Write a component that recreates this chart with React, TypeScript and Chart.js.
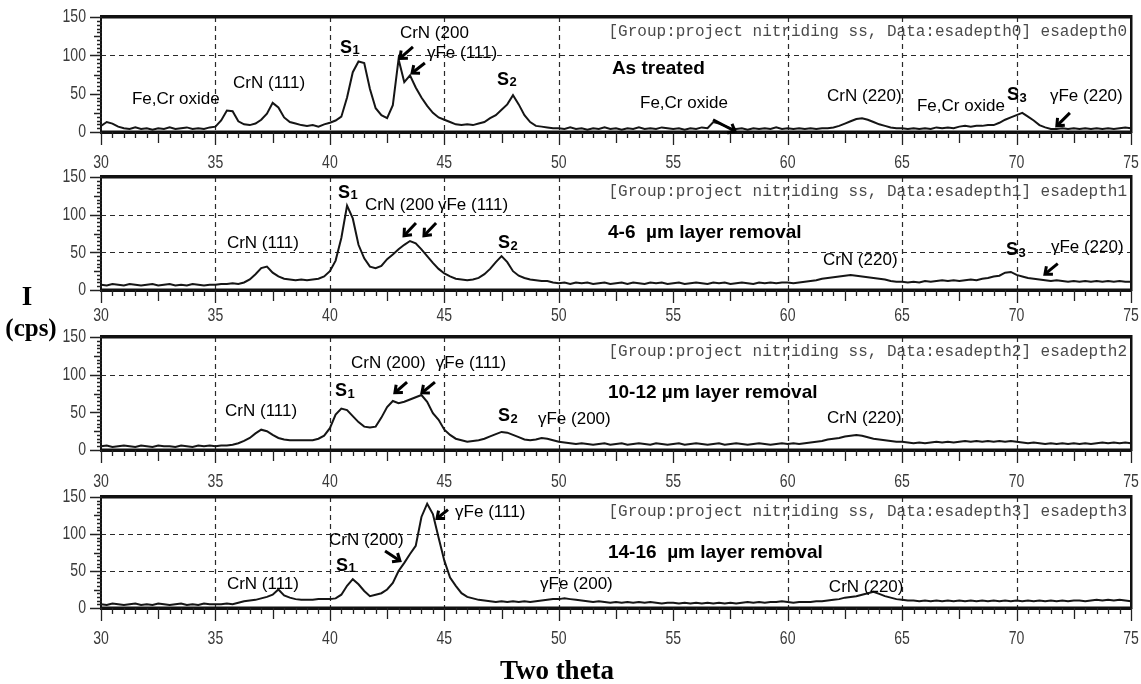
import React, { useEffect, useRef } from "react";
import { Chart, registerables } from "chart.js";

Chart.register(...registerables);

// ---------- DATA ----------
// two-theta sampling grid (degrees), 0.25° step from 30 to 75
const twoTheta: number[] = [];
for (let i = 0; i <= 180; i++) twoTheta.push(30 + i * 0.25);

// intensities (cps)
const asTreatedCps = [
  8, 13, 11, 7, 5, 4, 6, 4, 5, 3, 5, 4, 6, 4, 5, 6, 4, 5, 4, 6,
  7, 15, 28, 27, 14, 10, 9, 11, 16, 24, 38, 32, 19, 13, 11, 9, 8, 9, 7, 10,
  12, 15, 20, 45, 78, 92, 90, 56, 31, 22, 18, 35, 95, 65, 74, 58, 45, 34, 25, 19,
  16, 13, 10, 9, 10, 9, 11, 13, 18, 22, 29, 36, 48, 36, 22, 13, 8, 7, 6, 5,
  5, 4, 6, 4, 5, 3, 5, 4, 6, 4, 5, 3, 5, 4, 6, 4, 5, 4, 6, 5,
  4, 5, 3, 5, 4, 6, 5, 13, 11, 8, 5, 4, 5, 3, 5, 4, 5, 4, 6, 4,
  5, 4, 5, 4, 5, 4, 5, 5, 6, 8, 11, 14, 17, 18, 16, 13, 10, 8, 6, 5,
  5, 4, 5, 4, 5, 4, 6, 5, 6, 5, 7, 8, 7, 8, 8, 9, 9, 12, 16, 19,
  22, 25, 20, 15, 9, 6, 4, 4, 5, 4, 5, 4, 5, 4, 5, 4, 5, 4, 5, 6,
  5,
];

const removal4to6Cps = [
  7, 6, 8, 7, 6, 8, 7, 6, 7, 8, 6, 7, 8, 6, 7, 6, 8, 7, 6, 7,
  7, 8, 8, 9, 8, 10, 14, 21, 29, 31, 23, 18, 15, 14, 13, 14, 13, 14, 15, 18,
  25, 39, 69, 112, 95, 60, 42, 31, 29, 32, 41, 47, 54, 60, 65, 62, 54, 45, 36, 28,
  22, 18, 15, 14, 13, 14, 16, 21, 28, 37, 45, 37, 25, 19, 16, 14, 13, 12, 12, 10,
  9, 10, 8, 10, 9, 10, 8, 9, 10, 8, 9, 10, 8, 10, 9, 8, 10, 9, 10, 8,
  9, 10, 8, 9, 10, 9, 8, 10, 9, 10, 8, 9, 10, 9, 8, 10, 9, 10, 9, 10,
  10, 9, 10, 11, 12, 13, 15, 16, 17, 18, 19, 20, 19, 18, 17, 16, 15, 14, 12, 11,
  11, 10, 11, 10, 12, 11, 12, 13, 12, 13, 12, 13, 14, 13, 15, 16, 18, 19, 23, 24,
  20, 18, 16, 15, 14, 13, 12, 13, 12, 11, 12, 11, 12, 11, 12, 11, 12, 11, 12, 11,
  11,
];

const removal10to12Cps = [
  5, 6, 4, 5, 6, 5, 4, 6, 5, 4, 6, 5, 5, 4, 6, 5, 4, 6, 5, 6,
  5, 6, 6, 7, 9, 12, 16, 22, 27, 25, 20, 16, 14, 13, 13, 13, 13, 13, 15, 19,
  29, 47, 55, 53, 45, 37, 31, 30, 31, 43, 57, 65, 62, 64, 67, 70, 73, 64, 49, 40,
  27, 20, 15, 13, 11, 12, 13, 15, 18, 21, 24, 23, 20, 17, 14, 13, 14, 16, 15, 13,
  11, 10, 9, 8, 9, 8, 7, 8, 9, 7, 8, 9, 7, 8, 9, 8, 7, 9, 8, 7,
  8, 9, 7, 8, 9, 8, 7, 8, 9, 7, 8, 9, 8, 7, 8, 9, 8, 7, 8, 9,
  8, 9, 8, 9, 10, 11, 12, 14, 15, 16, 18, 19, 20, 19, 17, 15, 14, 13, 12, 11,
  11, 10, 9, 10, 9, 10, 11, 10, 11, 10, 11, 12, 11, 12, 11, 12, 11, 12, 11, 12,
  11, 10, 9, 10, 9, 8, 9, 8, 9, 8, 9, 8, 9, 8, 9, 10, 9, 10, 9, 10,
  9,
];

const removal14to16Cps = [
  5, 4, 6, 5, 4, 5, 6, 4, 5, 4, 6, 5, 4, 5, 6, 4, 5, 4, 6, 5,
  5, 5, 6, 5, 7, 9, 10, 11, 13, 15, 18, 25, 17, 14, 12, 11, 11, 11, 12, 12,
  12, 13, 18, 30, 39, 32, 23, 16, 18, 20, 25, 34, 50, 61, 73, 84, 123, 141, 127, 95,
  64, 41, 30, 20, 15, 13, 11, 10, 9, 8, 9, 8, 9, 8, 9, 8, 9, 10, 11, 12,
  12, 13, 12, 11, 10, 9, 8, 9, 8, 7, 8, 7, 8, 7, 8, 7, 8, 7, 6, 7,
  7, 6, 7, 6, 7, 6, 7, 6, 7, 6, 7, 6, 7, 8, 7, 8, 7, 8, 8, 9,
  8, 7, 8, 8, 8, 9, 9, 10, 11, 12, 14, 15, 16, 18, 20, 22, 19, 16, 14, 12,
  11, 10, 10, 9, 10, 9, 10, 9, 10, 9, 10, 9, 10, 9, 10, 9, 10, 9, 10, 9,
  10, 9, 10, 9, 10, 9, 10, 9, 10, 9, 10, 10, 9, 10, 11, 10, 11, 10, 11, 10,
  9,
];

const xTickLabels = ["30", "35", "40", "45", "50", "55", "60", "65", "70", "75"];
const yTickLabels = ["0", "50", "100", "150"];

const panelTitles = [
  "As treated",
  "4-6  \u00b5m layer removal",
  "10-12 \u00b5m layer removal",
  "14-16  \u00b5m layer removal",
];

const headerTexts = [
  "[Group:project nitriding ss, Data:esadepth0] esadepth0",
  "[Group:project nitriding ss, Data:esadepth1] esadepth1",
  "[Group:project nitriding ss, Data:esadepth2] esadepth2",
  "[Group:project nitriding ss, Data:esadepth3] esadepth3",
];

type Label = { text: string; x: number; y: number; sub?: string; title?: boolean };
type Arrow = { from: [number, number]; to: [number, number] };

const asTreatedLabels: Label[] = [
  { text: "Fe,Cr oxide", x: 31.35, y: 43 },
  { text: "CrN (111)", x: 35.77, y: 64 },
  { text: "S", sub: "1", x: 40.44, y: 110 },
  { text: "CrN (200", x: 43.06, y: 129 },
  { text: "\u03b3Fe (111)", x: 44.24, y: 103 },
  { text: "S", sub: "2", x: 47.3, y: 68 },
  { text: panelTitles[0], x: 52.32, y: 83, title: true },
  { text: "Fe,Cr oxide", x: 53.55, y: 38 },
  { text: "CrN (220)", x: 61.72, y: 46 },
  { text: "Fe,Cr oxide", x: 65.65, y: 33 },
  { text: "S", sub: "3", x: 69.58, y: 48 },
  { text: "\u03b3Fe (220)", x: 71.46, y: 46 },
];
const asTreatedArrows: Arrow[] = [
  { from: [43.63, 111], to: [43.06, 96] },
  { from: [44.15, 90], to: [43.59, 77] },
  { from: [56.74, 16], to: [57.7, 1] },
  { from: [72.33, 25], to: [71.76, 8] },
];

const removal4to6Labels: Label[] = [
  { text: "CrN (111)", x: 35.5, y: 62 },
  { text: "S", sub: "1", x: 40.35, y: 129 },
  { text: "CrN (200", x: 41.53, y: 113 },
  { text: "\u03b3Fe (111)", x: 44.72, y: 113 },
  { text: "S", sub: "2", x: 47.34, y: 62 },
  { text: panelTitles[1], x: 52.15, y: 76, title: true },
  { text: "CrN (220)", x: 61.54, y: 40 },
  { text: "S", sub: "3", x: 69.54, y: 53 },
  { text: "\u03b3Fe (220)", x: 71.5, y: 57 },
];
const removal4to6Arrows: Arrow[] = [
  { from: [43.76, 89], to: [43.24, 72] },
  { from: [44.64, 89], to: [44.11, 72] },
  { from: [71.8, 35], to: [71.24, 21] },
];

const removal10to12Labels: Label[] = [
  { text: "CrN (111)", x: 35.42, y: 52 },
  { text: "S", sub: "1", x: 40.22, y: 78 },
  { text: "CrN (200)", x: 40.92, y: 115 },
  { text: "\u03b3Fe (111)", x: 44.63, y: 115 },
  { text: "S", sub: "2", x: 47.34, y: 45 },
  { text: "\u03b3Fe (200)", x: 49.09, y: 41 },
  { text: panelTitles[2], x: 52.15, y: 76, title: true },
  { text: "CrN (220)", x: 61.72, y: 42 },
];
const removal10to12Arrows: Arrow[] = [
  { from: [43.37, 90], to: [42.84, 76] },
  { from: [44.59, 90], to: [44.02, 76] },
];

const removal14to16Labels: Label[] = [
  { text: "CrN (111)", x: 35.5, y: 32 },
  { text: "S", sub: "1", x: 40.27, y: 57 },
  { text: "CrN (200)", x: 39.96, y: 92 },
  { text: "\u03b3Fe (111)", x: 45.47, y: 129 },
  { text: "\u03b3Fe (200)", x: 49.18, y: 32 },
  { text: panelTitles[3], x: 52.15, y: 74, title: true },
  { text: "CrN (220)", x: 61.8, y: 28 },
];
const removal14to16Arrows: Arrow[] = [
  { from: [42.41, 77], to: [43.06, 64] },
  { from: [45.16, 133], to: [44.68, 121] },
];

const verticalGridValues = [35, 40, 45, 50, 60, 65, 70];

// ---------- LAYOUT / STYLE ----------
const PAD_TOP = 12;
const X_AXIS_H = 48;
const panels = [
  { top: 17, bottom: 132, values: asTreatedCps, labels: asTreatedLabels, arrows: asTreatedArrows, hGrid: [100], xLabelDy: 31, header: headerTexts[0] },
  { top: 177, bottom: 290, values: removal4to6Cps, labels: removal4to6Labels, arrows: removal4to6Arrows, hGrid: [50, 100], xLabelDy: 26, header: headerTexts[1] },
  { top: 337, bottom: 450, values: removal10to12Cps, labels: removal10to12Labels, arrows: removal10to12Arrows, hGrid: [100], xLabelDy: 32, header: headerTexts[2] },
  { top: 497, bottom: 608, values: removal14to16Cps, labels: removal14to16Labels, arrows: removal14to16Arrows, hGrid: [50, 100], xLabelDy: 31, header: headerTexts[3] },
];

const TICK_FONT = "19px 'Liberation Sans', Arial, sans-serif";
const LABEL_FONT = "17px 'Liberation Sans', Arial, sans-serif";
const TITLE_FONT = "bold 19px 'Liberation Sans', Arial, sans-serif";
const S_FONT = "bold 18px 'Liberation Sans', Arial, sans-serif";
const SUB_FONT = "bold 13px 'Liberation Sans', Arial, sans-serif";
const HEADER_FONT = "16px 'Liberation Mono', 'DejaVu Sans Mono', monospace";

function drawNarrow(ctx: CanvasRenderingContext2D, text: string, x: number, y: number, align: CanvasTextAlign) {
  ctx.save();
  ctx.translate(x, y);
  ctx.scale(0.74, 1);
  ctx.textAlign = align;
  ctx.textBaseline = "middle";
  ctx.fillText(text, 0, 0);
  ctx.restore();
}

function decorPlugin(cfg: (typeof panels)[number]) {
  return {
    id: "xrdDecor",
    beforeDatasetsDraw(chart: any) {
      const { ctx, chartArea: a } = chart;
      const xs = chart.scales.x;
      const ys = chart.scales.y;
      ctx.save();
      ctx.strokeStyle = "#2a2a2a";
      ctx.lineWidth = 1.2;
      ctx.setLineDash([5, 4]);
      verticalGridValues.forEach((v) => {
        const p = Math.round(xs.getPixelForValue(v)) + 0.5;
        ctx.beginPath();
        ctx.moveTo(p, a.top);
        ctx.lineTo(p, a.bottom);
        ctx.stroke();
      });
      cfg.hGrid.forEach((v) => {
        const p = Math.round(ys.getPixelForValue(v)) + 0.5;
        ctx.beginPath();
        ctx.moveTo(a.left, p);
        ctx.lineTo(a.right, p);
        ctx.stroke();
      });
      ctx.restore();
    },
    afterDatasetsDraw(chart: any) {
      const { ctx, chartArea: a } = chart;
      const xs = chart.scales.x;
      const ys = chart.scales.y;
      ctx.save();
      // frame
      ctx.fillStyle = "#111";
      ctx.fillRect(a.left - 1, a.top - 2, a.width + 2, 3.5);
      ctx.fillRect(a.left - 1, a.bottom - 1.5, a.width + 2, 3.5);
      ctx.fillRect(a.left - 1, a.top, 2, a.height);
      ctx.fillRect(a.right - 1, a.top - 2, 2.5, a.height + 3);
      // x ticks
      ctx.strokeStyle = "#222";
      ctx.lineWidth = 1.3;
      ctx.beginPath();
      for (let k = 0; k <= 90; k++) {
        const v = 30 + k * 0.5;
        const len = k % 10 === 0 ? 13 : k % 5 === 0 ? 11 : 6;
        const p = Math.round(xs.getPixelForValue(v)) + 0.5;
        ctx.moveTo(p, a.bottom);
        ctx.lineTo(p, a.bottom + len);
      }
      // y ticks
      for (let k = 0; k <= 30; k++) {
        const v = k * 5;
        const len = k % 10 === 0 ? 11 : k % 5 === 0 ? 7 : 4;
        const p = Math.round(ys.getPixelForValue(v)) + 0.5;
        ctx.moveTo(a.left - len, p);
        ctx.lineTo(a.left + 1, p);
      }
      ctx.stroke();

      // tick labels (narrow, grey, like the instrument print-out)
      ctx.fillStyle = "#3a3a3a";
      ctx.font = TICK_FONT;
      xTickLabels.forEach((t) => {
        drawNarrow(ctx, t, xs.getPixelForValue(Number(t)), a.bottom + cfg.xLabelDy, "center");
      });
      yTickLabels.forEach((t) => {
        drawNarrow(ctx, t, a.left - 15, ys.getPixelForValue(Number(t)), "right");
      });

      // header text
      ctx.font = HEADER_FONT;
      ctx.fillStyle = "#4a4a4a";
      ctx.textAlign = "right";
      ctx.textBaseline = "middle";
      ctx.fillText(cfg.header, a.right - 4, a.top + 15);

      // labels
      ctx.fillStyle = "#000";
      ctx.textAlign = "left";
      cfg.labels.forEach((l) => {
        const px = xs.getPixelForValue(l.x);
        const py = ys.getPixelForValue(l.y);
        if (l.sub) {
          ctx.font = S_FONT;
          ctx.fillText(l.text, px, py);
          const w = ctx.measureText(l.text).width;
          ctx.font = SUB_FONT;
          ctx.fillText(l.sub, px + w + 0.5, py + 3);
        } else {
          ctx.font = l.title ? TITLE_FONT : LABEL_FONT;
          ctx.fillText(l.text, px, py);
        }
      });

      // arrows
      ctx.strokeStyle = "#000";
      ctx.lineWidth = 3;
      ctx.lineJoin = "miter";
      cfg.arrows.forEach((ar) => {
        const x1 = xs.getPixelForValue(ar.from[0]);
        const y1 = ys.getPixelForValue(ar.from[1]);
        const x2 = xs.getPixelForValue(ar.to[0]);
        const y2 = ys.getPixelForValue(ar.to[1]);
        const ang = Math.atan2(y2 - y1, x2 - x1);
        const hl = 8;
        ctx.beginPath();
        ctx.moveTo(x1, y1);
        ctx.lineTo(x2, y2);
        ctx.stroke();
        ctx.beginPath();
        ctx.moveTo(x2 - hl * Math.cos(ang - 0.7), y2 - hl * Math.sin(ang - 0.7));
        ctx.lineTo(x2, y2);
        ctx.lineTo(x2 - hl * Math.cos(ang + 0.7), y2 - hl * Math.sin(ang + 0.7));
        ctx.stroke();
      });
      ctx.restore();
    },
  };
}

function XrdPanel({ idx }: { idx: number }) {
  const ref = useRef<HTMLCanvasElement>(null);
  const cfg = panels[idx];
  const h = PAD_TOP + (cfg.bottom - cfg.top) + X_AXIS_H;

  useEffect(() => {
    if (!ref.current) return;
    const chart = new Chart(ref.current, {
      type: "line",
      data: {
        datasets: [
          {
            data: twoTheta.map((x, i) => ({ x, y: cfg.values[i] })),
            borderColor: "#151515",
            borderWidth: 2,
            pointRadius: 0,
            tension: 0,
            fill: false,
          },
        ],
      },
      options: {
        responsive: false,
        animation: false,
        events: [],
        layout: { padding: { top: PAD_TOP, right: 10, left: 0, bottom: 0 } },
        plugins: { legend: { display: false }, tooltip: { enabled: false } },
        scales: {
          x: {
            type: "linear",
            min: 30,
            max: 75,
            afterFit: (s: any) => {
              s.height = X_AXIS_H;
            },
            ticks: { display: false, stepSize: 5 },
            grid: { display: false, drawTicks: false },
            border: { display: false },
          },
          y: {
            type: "linear",
            min: 0,
            max: 150,
            afterFit: (s: any) => {
              s.width = 101;
            },
            ticks: { display: false, stepSize: 50 },
            grid: { display: false, drawTicks: false },
            border: { display: false },
          },
        },
      } as any,
      plugins: [decorPlugin(cfg) as any],
    });
    return () => chart.destroy();
  }, [idx]);

  return (
    <canvas
      ref={ref}
      width={1141}
      height={h}
      style={{ position: "absolute", left: 0, top: cfg.top - PAD_TOP, width: 1141, height: h }}
    />
  );
}

const serifBold = "'Liberation Serif', 'Times New Roman', serif";

export default function App() {
  return (
    <div
      style={{
        position: "absolute",
        left: 0,
        top: 0,
        width: 1141,
        height: 684,
        background: "#fff",
        overflow: "hidden",
      }}
    >
      {panels.map((_, i) => (
        <XrdPanel key={i} idx={i} />
      ))}
      <div
        style={{
          position: "absolute",
          left: 27,
          top: 296,
          transform: "translate(-50%, -50%)",
          fontFamily: serifBold,
          fontWeight: "bold",
          fontSize: 27,
          lineHeight: 1,
          whiteSpace: "nowrap",
        }}
      >
        I
      </div>
      <div
        style={{
          position: "absolute",
          left: 31,
          top: 327,
          transform: "translate(-50%, -50%)",
          fontFamily: serifBold,
          fontWeight: "bold",
          fontSize: 25,
          lineHeight: 1,
          whiteSpace: "nowrap",
        }}
      >
        (cps)
      </div>
      <div
        style={{
          position: "absolute",
          left: 557,
          top: 670,
          transform: "translate(-50%, -50%)",
          fontFamily: serifBold,
          fontWeight: "bold",
          fontSize: 27,
          lineHeight: 1,
          whiteSpace: "nowrap",
        }}
      >
        Two theta
      </div>
    </div>
  );
}
